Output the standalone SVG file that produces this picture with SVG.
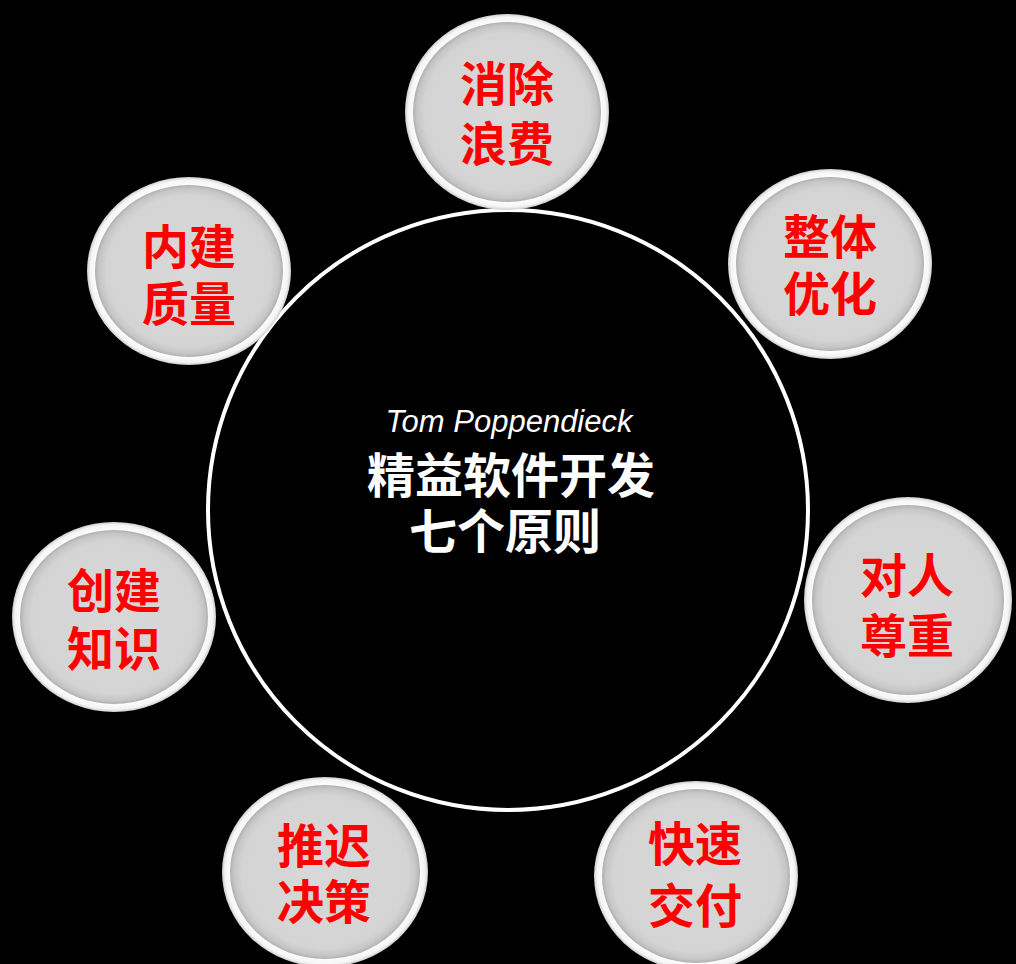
<svg xmlns="http://www.w3.org/2000/svg" width="1016" height="964" viewBox="0 0 1016 964">
<defs>
<radialGradient id="disc" cx="50%" cy="50%" r="50%">
<stop offset="0%" stop-color="#d8d8d8"/>
<stop offset="88%" stop-color="#d4d4d4"/>
<stop offset="96%" stop-color="#c6c6c6"/>
<stop offset="100%" stop-color="#b0b0b0"/>
</radialGradient>
<radialGradient id="ring" cx="50%" cy="50%" r="50%">
<stop offset="90%" stop-color="#ffffff"/>
<stop offset="97%" stop-color="#f4f4f4"/>
<stop offset="100%" stop-color="#cccccc"/>
</radialGradient>
<style>
.ring{fill:url(#ring);}
.disc{fill:url(#disc);}
.lbl{font-family:"Noto Sans CJK SC","Noto Sans",sans-serif;font-weight:bold;font-size:47px;fill:#ff0000;text-anchor:middle;}
.ctr{font-family:"Noto Sans CJK SC","Noto Sans",sans-serif;font-weight:bold;font-size:48px;fill:#ffffff;text-anchor:middle;}
.auth{font-family:"Liberation Sans",Arial,sans-serif;font-style:italic;font-size:31px;fill:#ffffff;text-anchor:middle;}
</style>
</defs>
<rect width="1016" height="964" fill="#000000"/>
<g id="connectors"/>
<g id="center">
<circle cx="508" cy="510" r="300" fill="#000000" stroke="#ffffff" stroke-width="4"/>
<text class="auth" x="509" y="432">Tom Poppendieck</text>
<text class="ctr" x="511" y="493">精益软件开发</text>
<text class="ctr" x="505" y="549">七个原则</text>
</g>
<g id="n1">
<ellipse class="ring" cx="507" cy="112" rx="102" ry="98"/>
<ellipse class="disc" cx="507" cy="112" rx="94" ry="90"/>
<text class="lbl" x="507" y="101">消除</text>
<text class="lbl" x="507" y="161">浪费</text>
</g>
<g id="n2">
<ellipse class="ring" cx="830" cy="264" rx="102" ry="95"/>
<ellipse class="disc" cx="830" cy="264" rx="94" ry="87"/>
<text class="lbl" x="830" y="254">整体</text>
<text class="lbl" x="830" y="311">优化</text>
</g>
<g id="n3">
<ellipse class="ring" cx="908" cy="600" rx="104" ry="103"/>
<ellipse class="disc" cx="908" cy="600" rx="96" ry="95"/>
<text class="lbl" x="907" y="593">对人</text>
<text class="lbl" x="907" y="653">尊重</text>
</g>
<g id="n4">
<ellipse class="ring" cx="696" cy="876" rx="102" ry="95"/>
<ellipse class="disc" cx="696" cy="876" rx="94" ry="87"/>
<text class="lbl" x="695" y="861">快速</text>
<text class="lbl" x="695" y="923">交付</text>
</g>
<g id="n5">
<ellipse class="ring" cx="325" cy="872" rx="103" ry="95"/>
<ellipse class="disc" cx="325" cy="872" rx="95" ry="87"/>
<text class="lbl" x="324" y="863">推迟</text>
<text class="lbl" x="324" y="919">决策</text>
</g>
<g id="n6">
<ellipse class="ring" cx="114" cy="617" rx="102" ry="95"/>
<ellipse class="disc" cx="114" cy="617" rx="94" ry="87"/>
<text class="lbl" x="114" y="608">创建</text>
<text class="lbl" x="114" y="666">知识</text>
</g>
<g id="n7">
<ellipse class="ring" cx="189" cy="271" rx="102" ry="94"/>
<ellipse class="disc" cx="189" cy="271" rx="94" ry="86"/>
<text class="lbl" x="189" y="264">内建</text>
<text class="lbl" x="189" y="321">质量</text>
</g>
</svg>
